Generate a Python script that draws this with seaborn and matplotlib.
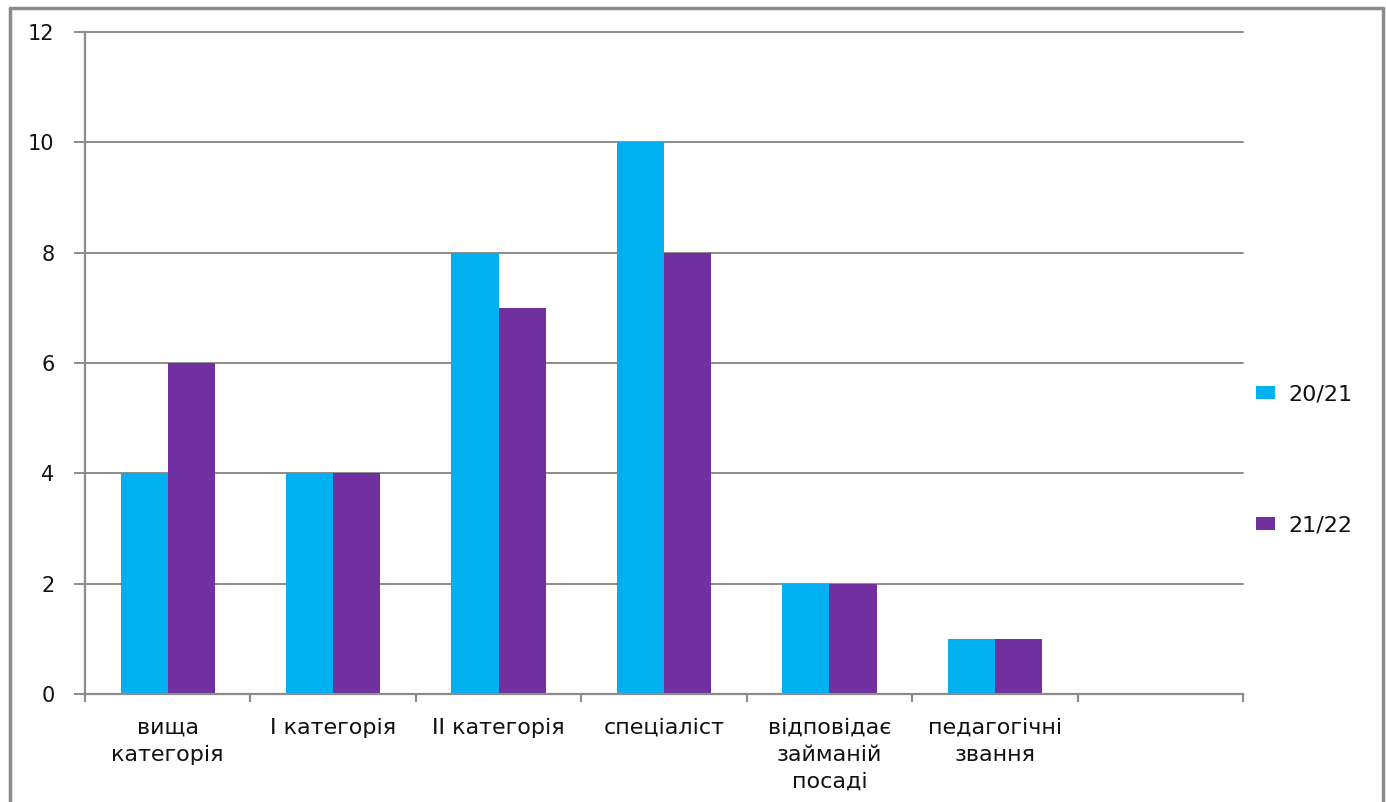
import matplotlib
matplotlib.use("Agg")
import matplotlib.pyplot as plt
import seaborn as sns
import pandas as pd
import numpy as np
from matplotlib.lines import Line2D

categories = ["вища\nкатегорія", "І категорія", "ІІ категорія", "спеціаліст",
              "відповідає\nзайманій\nпосаді", "педагогічні\nзвання", ""]
series_names = ["20/21", "21/22"]
values_2021 = [4, 4, 8, 10, 2, 1, np.nan]
values_2122 = [6, 4, 7, 8, 2, 1, np.nan]
colors = ["#00B0F0", "#7030A0"]
y_ticks = [0, 2, 4, 6, 8, 10, 12]

df = pd.DataFrame({
    "cat": categories * 2,
    "series": [series_names[0]] * len(categories) + [series_names[1]] * len(categories),
    "value": values_2021 + values_2122,
})

sns.set_theme(style="white")
plt.rcParams['font.family'] = ['DejaVu Sans']

fig = plt.figure(figsize=(13.86, 8.02), dpi=100)
ax = fig.add_axes([85/1386, 1-694/802, (1243-85)/1386, (694-32)/802])

sns.barplot(data=df, x="cat", y="value", hue="series", order=categories,
            hue_order=series_names, palette=colors, width=0.57,
            saturation=1, ax=ax, legend=True, errorbar=None, linewidth=0)

ax.set_xlim(-0.5, len(categories) - 0.5)
ax.set_ylim(0, 12)
ax.set_yticks(y_ticks)
ax.set_yticklabels([str(t) for t in y_ticks], fontsize=15)
ax.yaxis.grid(True, color="#8c8c8c", linewidth=1.4)
for gl in ax.get_ygridlines():
    gl.set_clip_on(False)
ax.set_axisbelow(True)
ax.set_xlabel("")
ax.set_ylabel("")

ax.set_xticks(range(len(categories)))
ax.set_xticklabels(categories, fontsize=16, linespacing=1.45, va="top", color="#111111")
ax.tick_params(axis="x", which="major", length=0, pad=17)
ax.set_xticks(np.arange(-0.5, len(categories), 1.0), minor=True)
ax.tick_params(axis="x", which="minor", bottom=True, length=6, width=1.6,
               color="#8c8c8c", direction="out")
ax.tick_params(axis="y", which="major", left=True, length=8, width=1.4,
               color="#8c8c8c", direction="out", pad=14, labelcolor="#111111")

for s in ["top", "right"]:
    ax.spines[s].set_visible(False)
for s in ["left", "bottom"]:
    ax.spines[s].set_color("#8c8c8c")
    ax.spines[s].set_linewidth(1.6)

leg = ax.legend(loc="center left", bbox_to_anchor=(1236/1386, 1-460/802),
                bbox_transform=fig.transFigure, frameon=False, fontsize=16,
                handlelength=0.85, handleheight=0.55, handletextpad=0.6,
                labelspacing=5.0)
for t in leg.get_texts():
    t.set_color("#111111")

# figure border
for (x0, y0, x1, y1) in [(10, 8, 10, 802), (10, 8, 1383, 8), (1383, 8, 1383, 802)]:
    fig.add_artist(Line2D([x0/1386, x1/1386], [1-y0/802, 1-y1/802],
                          transform=fig.transFigure, color="#8c8c8c", linewidth=2.5))

fig.savefig("out.png", dpi=100)
